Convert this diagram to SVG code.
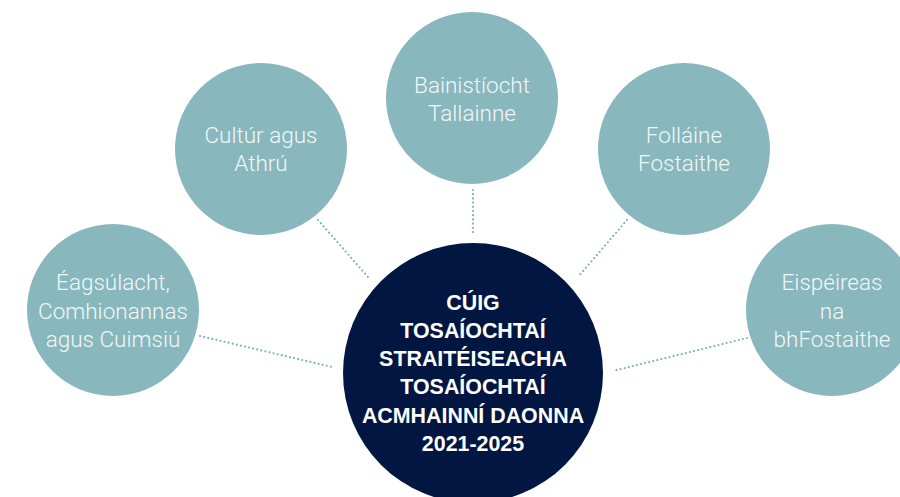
<svg xmlns="http://www.w3.org/2000/svg" width="900" height="497" viewBox="0 0 900 497">
<style>
.outer{fill:#88b7bd}
.lbl{font-family:Roboto,"Liberation Sans",Arial,sans-serif;font-weight:300;font-size:22.5px;fill:#f2f7f8;text-anchor:middle}
.ctr{font-family:"Liberation Sans",Arial,sans-serif;font-size:21.4px;font-weight:bold;fill:#ffffff;text-anchor:middle}
.conn{stroke:#7fb1b9;stroke-width:2.2;stroke-dasharray:0 4.2;stroke-linecap:round;fill:none}
</style>
<rect width="900" height="497" fill="#ffffff"/>
<g id="connectors">
<line class="conn" x1="200" y1="336" x2="332" y2="367"/>
<line class="conn" x1="318" y1="220" x2="368" y2="277"/>
<line class="conn" x1="473" y1="190" x2="473" y2="233"/>
<line class="conn" x1="627" y1="220" x2="578" y2="277"/>
<line class="conn" x1="747" y1="338" x2="613" y2="371"/>
</g>
<g id="node-eagsulacht">
<circle class="outer" cx="113" cy="310" r="86"/>
<text class="lbl" x="113" y="290">Éagsúlacht,</text>
<text class="lbl" x="113" y="319">Comhionannas</text>
<text class="lbl" x="113" y="347">agus Cuimsiú</text>
</g>
<g id="node-cultur">
<circle class="outer" cx="261" cy="149" r="86"/>
<text class="lbl" x="261" y="143">Cultúr agus</text>
<text class="lbl" x="261" y="171">Athrú</text>
</g>
<g id="node-bainistiocht">
<circle class="outer" cx="472" cy="98" r="86"/>
<text class="lbl" x="472" y="93">Bainistíocht</text>
<text class="lbl" x="472" y="121">Tallainne</text>
</g>
<g id="node-follaine">
<circle class="outer" cx="684" cy="149" r="86"/>
<text class="lbl" x="684" y="143">Folláine</text>
<text class="lbl" x="684" y="171">Fostaithe</text>
</g>
<g id="node-eispeireas">
<circle class="outer" cx="832" cy="310" r="86"/>
<text class="lbl" x="832" y="290">Eispéireas</text>
<text class="lbl" x="832" y="319">na</text>
<text class="lbl" x="832" y="347">bhFostaithe</text>
</g>
<g id="node-center">
<circle cx="473" cy="373" r="130" fill="#011641"/>
<text class="ctr" x="473" y="310">CÚIG</text>
<text class="ctr" x="473" y="338">TOSAÍOCHTAÍ</text>
<text class="ctr" x="473" y="366">STRAITÉISEACHA</text>
<text class="ctr" x="473" y="394">TOSAÍOCHTAÍ</text>
<text class="ctr" x="473" y="423">ACMHAINNÍ DAONNA</text>
<text class="ctr" x="473" y="451">2021-2025</text>
</g>
</svg>
